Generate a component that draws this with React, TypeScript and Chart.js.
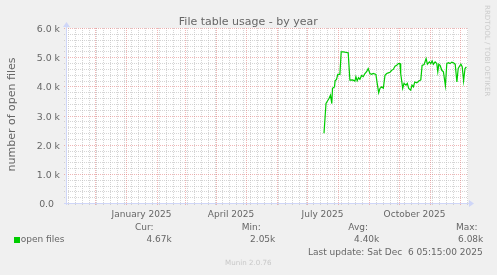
import React, { useEffect, useRef } from 'react';
import { Chart, registerables } from 'chart.js';

Chart.register(...registerables);

// ---- data (x = days since 1 Jan 2025) ----
const DAYS = [
  198, 200, 201, 203, 204.5, 205.8, 206.5, 208.5, 209.1, 210.5, 211.8, 213.9, 215.2, 217.2, 220.6, 222.2,
  223.9, 226.6, 228.9, 229.9, 231.2, 232.6, 233.9, 235.6, 237.2, 238.9, 240.6, 242.2, 243.9, 245.6, 247.2,
  249.9, 251.2, 252.7, 254.0, 255.7, 257.3, 259.0, 260.7, 262.3, 264.0, 265.7, 267.3, 269.0, 270.7, 272.3,
  274.0, 274.7, 276.7, 278.0, 280.0, 281.3, 282.7, 284.7, 286.0, 287.4, 288.8, 290.8, 292.8, 294.8, 296.1,
  298.1, 300.1, 301.4, 303.4, 304.8, 306.1, 307.4, 309.1, 310.8, 311.8, 312.8, 314.1, 315.8, 317.4, 319.4,
  320.8, 322.4, 324.1, 325.8, 327.4, 329.2, 330.9, 332.2, 333.5, 334.9, 336.2, 337.6, 339.0, 340.4,
];
const OPEN_FILES = [
  2390, 3410, 3470, 3580, 3700, 3410, 3930, 3980, 4190, 4240, 4410, 4410, 5180, 5180, 5160, 5150,
  4210, 4220, 4180, 4330, 4190, 4300, 4240, 4370, 4330, 4440, 4500, 4610, 4440, 4410, 4440,
  4410, 4100, 3780, 3930, 3980, 3930, 4380, 4440, 4460, 4480, 4550, 4580, 4690, 4720, 4780,
  4780, 4440, 3930, 4100, 4040, 4100, 3930, 3870, 4040, 3980, 4150, 4120, 4180, 4220, 4720,
  4750, 4950, 4760, 4840, 4780, 4870, 4760, 4840, 4780, 4500, 4760, 4720, 4550, 4500, 4020,
  4780, 4810, 4780, 4830, 4810, 4760, 4150, 4610, 4690, 4760, 4670, 4180, 4610, 4670,
];

const X_MIN = -60;
const X_MAX = 342;
const Y_MAX = 6000;
const Y_TICKS = [0, 1000, 2000, 3000, 4000, 5000, 6000];
const Y_TICK_LABELS = ['0.0  ', '1.0 k', '2.0 k', '3.0 k', '4.0 k', '5.0 k', '6.0 k'];
const X_LABELS = ['January 2025', 'April 2025', 'July 2025', 'October 2025'];
const X_LABEL_DAYS = [15.5, 105, 196.5, 288.5];
const MONTH_START_DAYS = [-31, 0, 31, 59, 90, 120, 151, 181, 212, 243, 273, 304, 334];
const FIRST_MONDAY = -58;

const TITLE = 'File table usage - by year';
const Y_TITLE = 'number of open files';
const SERIES_LABEL = 'open files';
const LEGEND_HEADERS = ['Cur:', 'Min:', 'Avg:', 'Max:'];
const LEGEND_VALUES = ['4.67k', '2.05k', '4.40k', '6.08k'];
const LAST_UPDATE = 'Last update: Sat Dec  6 05:15:00 2025';
const FOOTER = 'Munin 2.0.76';
const WATERMARK = 'RRDTOOL / TOBI OETIKER';

const FONT = '"DejaVu Sans", sans-serif';
const TEXT = '#666666';
const GRID = 'rgba(185,185,185,0.6)';
const MGRID = 'rgba(225,110,110,0.5)';
const AXIS = '#CFD6F8';
const LINE = '#00CC00';

const muninPlugin = {
  id: 'munin',
  beforeDatasetsDraw(chart: any) {
    const { ctx, chartArea: a, scales } = chart;
    const x = scales.x;
    const y = scales.y;
    const line = (x1: number, y1: number, x2: number, y2: number) => {
      ctx.beginPath();
      ctx.moveTo(x1, y1);
      ctx.lineTo(x2, y2);
      ctx.stroke();
    };
    ctx.save();
    ctx.lineWidth = 1;
    ctx.setLineDash([1, 1]);
    ctx.strokeStyle = GRID;
    for (let v = 200; v < Y_MAX; v += 200) {
      if (v % 1000 === 0) continue;
      const py = Math.round(y.getPixelForValue(v)) + 0.5;
      line(a.left - 2, py, a.right, py);
    }
    for (let d = FIRST_MONDAY; d <= X_MAX; d += 7) {
      if (MONTH_START_DAYS.includes(d)) continue;
      const px = Math.round(x.getPixelForValue(d)) + 0.5;
      line(px, a.top, px, a.bottom + 2);
    }
    ctx.strokeStyle = MGRID;
    for (const v of Y_TICKS) {
      if (v === 0) continue;
      const py = Math.round(y.getPixelForValue(v)) + 0.5;
      line(a.left - 2, py, a.right, py);
    }
    for (const d of MONTH_START_DAYS) {
      const px = Math.round(x.getPixelForValue(d)) + 0.5;
      line(px, a.top, px, a.bottom + 2);
    }
    ctx.setLineDash([]);
    // axes
    ctx.strokeStyle = AXIS;
    ctx.fillStyle = AXIS;
    const x0 = Math.round(x.getPixelForValue(X_MIN)) + 0.5;
    const y0 = Math.round(y.getPixelForValue(0)) + 0.5;
    line(a.left - 2, y0, a.right + 2, y0);
    line(x0, a.bottom + 2, x0, a.top - 3);
    ctx.beginPath();
    ctx.moveTo(a.right + 1, y0 - 3.5);
    ctx.lineTo(a.right + 6, y0);
    ctx.lineTo(a.right + 1, y0 + 3.5);
    ctx.closePath();
    ctx.fill();
    ctx.beginPath();
    ctx.moveTo(x0 - 3.5, a.top - 1);
    ctx.lineTo(x0, a.top - 6);
    ctx.lineTo(x0 + 3.5, a.top - 1);
    ctx.closePath();
    ctx.fill();
    ctx.restore();
  },
  afterDraw(chart: any) {
    const { ctx, chartArea: a, scales } = chart;
    const x = scales.x;
    const y = scales.y;
    ctx.save();
    ctx.fillStyle = TEXT;
    // title
    ctx.font = `11px ${FONT}`;
    ctx.textAlign = 'center';
    ctx.textBaseline = 'alphabetic';
    ctx.fillText(TITLE, 248.3, 25.3);
    // y tick labels
    ctx.font = `9.4px ${FONT}`;
    ctx.textAlign = 'right';
    Y_TICKS.forEach((v, i) => {
      const py = Math.round(y.getPixelForValue(v));
      ctx.fillText(Y_TICK_LABELS[i], a.left - 6, py + 3.8);
    });
    // x labels
    ctx.font = `9px ${FONT}`;
    ctx.textAlign = 'center';
    X_LABELS.forEach((t, i) => {
      ctx.fillText(t, x.getPixelForValue(X_LABEL_DAYS[i]), 216.7);
    });
    // y title
    ctx.save();
    ctx.font = `11px ${FONT}`;
    ctx.translate(15, (a.top + a.bottom) / 2 - 1);
    ctx.rotate(-Math.PI / 2);
    ctx.textAlign = 'center';
    ctx.fillText(Y_TITLE, 0, 0);
    ctx.restore();
    // legend
    ctx.font = `9px ${FONT}`;
    ctx.textAlign = 'left';
    const headX = [135, 241.7, 348.3, 456];
    LEGEND_HEADERS.forEach((t, i) => ctx.fillText(t, headX[i], 230));
    ctx.textAlign = 'right';
    const valX = [171.7, 275.3, 379.3, 483.3];
    LEGEND_VALUES.forEach((t, i) => ctx.fillText(t, valX[i], 242.3));
    ctx.textAlign = 'left';
    ctx.fillText(SERIES_LABEL, 20.7, 242.3);
    ctx.fillStyle = LINE;
    ctx.fillRect(14, 237, 6, 6);
    ctx.fillStyle = TEXT;
    ctx.textAlign = 'right';
    ctx.fillText(LAST_UPDATE, 482.7, 255);
    // footer
    ctx.fillStyle = '#C8C8C8';
    ctx.font = `7.1px ${FONT}`;
    ctx.textAlign = 'center';
    ctx.fillText(FOOTER, 248.3, 265);
    // watermark
    ctx.save();
    ctx.fillStyle = '#CCCCCC';
    ctx.translate(485, 5);
    ctx.rotate(Math.PI / 2);
    ctx.textAlign = 'left';
    ctx.fillText(WATERMARK, 0, 0);
    ctx.restore();
    ctx.restore();
  },
};

const bgPlugin = {
  id: 'bg',
  beforeDraw(chart: any) {
    const { ctx, chartArea: a } = chart;
    ctx.save();
    ctx.fillStyle = '#F0F0F0';
    ctx.fillRect(0, 0, chart.width, chart.height);
    ctx.fillStyle = '#FFFFFF';
    ctx.fillRect(a.left, a.top, a.right - a.left, a.bottom - a.top);
    ctx.restore();
  },
};

export default function App() {
  const ref = useRef<HTMLCanvasElement | null>(null);
  useEffect(() => {
    if (!ref.current) return;
    const chart = new Chart(ref.current, {
      type: 'line',
      data: {
        datasets: [
          {
            label: SERIES_LABEL,
            data: DAYS.map((d, i) => ({ x: d, y: OPEN_FILES[i] })),
            borderColor: LINE,
            borderWidth: 1.2,
            pointRadius: 0,
            tension: 0,
            fill: false,
          },
        ],
      },
      options: {
        animation: false,
        responsive: false,
        devicePixelRatio: 1,
        layout: { padding: { left: 66, right: 29, top: 28, bottom: 72 } },
        plugins: { legend: { display: false }, tooltip: { enabled: false } },
        events: [],
        scales: {
          x: { type: 'linear', min: X_MIN, max: X_MAX, display: false },
          y: { type: 'linear', min: 0, max: Y_MAX, display: false },
        },
      },
      plugins: [bgPlugin, muninPlugin],
    });
    return () => chart.destroy();
  }, []);
  return (
    <div style={{ position: 'fixed', left: 0, top: 0, width: 497, height: 275 }}>
      <canvas ref={ref} width={497} height={275} style={{ display: 'block' }} />
    </div>
  );
}
